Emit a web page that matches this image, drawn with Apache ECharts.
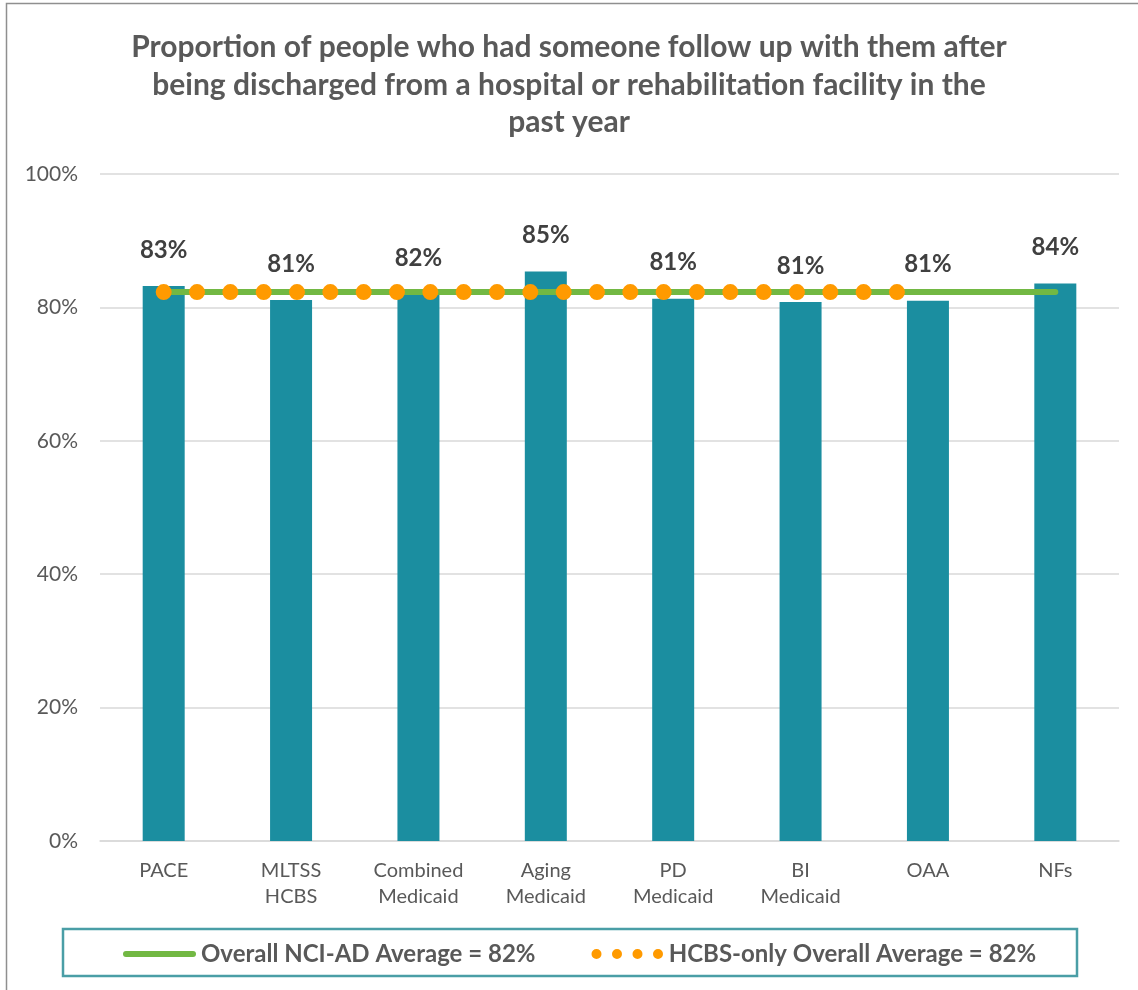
<!DOCTYPE html>
<html>
<head>
<meta charset="utf-8">
<script src="https://cdn.jsdelivr.net/npm/echarts@6/dist/echarts.min.js"></script>
<style>
  html, body { margin: 0; padding: 0; background: #fff; }
  #chart { width: 1138px; height: 990px; }
</style>
</head>
<body>
<div id="chart"></div>
<script>
const titleText = 'Proportion of people who had someone follow up with them after\nbeing discharged from a hospital or rehabilitation facility in the\npast year';
const categories = ['PACE', 'MLTSS\nHCBS', 'Combined\nMedicaid', 'Aging\nMedicaid', 'PD\nMedicaid', 'BI\nMedicaid', 'OAA', 'NFs'];
const barValues = [83.2, 81.1, 81.9, 85.4, 81.3, 80.8, 81.0, 83.6];
const overallAvgName = 'Overall NCI-AD Average = 82%';
const overallAvgLine = [82.3, 82.3, 82.3, 82.3, 82.3, 82.3, 82.3, 82.3];
const hcbsAvgName = 'HCBS-only Overall Average = 82%';
const hcbsAvgLine = [82.3, 82.3, 82.3, 82.3, 82.3, 82.3, 82.3, null];
const yTicks = [0, 20, 40, 60, 80, 100];

const FONT = 'Lato, "Open Sans", sans-serif';
const chart = echarts.init(document.getElementById('chart'), null, { renderer: 'canvas' });

const greenIcon = 'path://M3 0H70A3 3 0 0 1 70 6H3A3 3 0 0 1 3 0Z';
const dotsIcon = 'path://M0 5A5 5 0 1 0 10 5A5 5 0 1 0 0 5Z' +
  'M20.5 5A5 5 0 1 0 30.5 5A5 5 0 1 0 20.5 5Z' +
  'M41 5A5 5 0 1 0 51 5A5 5 0 1 0 41 5Z' +
  'M61.5 5A5 5 0 1 0 71.5 5A5 5 0 1 0 61.5 5Z';

chart.setOption({
  animation: false,
  backgroundColor: '#ffffff',
  title: {
    text: titleText,
    left: 'center',
    top: 24,
    textStyle: { fontFamily: FONT, fontSize: 30, fontWeight: 'bold', color: '#595959', lineHeight: 37.5 }
  },
  graphic: [
    { type: 'rect', z: 0, silent: true, shape: { x: 6.5, y: 3.5, width: 2000, height: 2000 },
      style: { fill: null, stroke: '#8f8f8f', lineWidth: 1.5 } },
    { type: 'rect', z: 0, silent: true, shape: { x: 63, y: 929, width: 1014, height: 47 },
      style: { fill: null, stroke: '#4a9ea6', lineWidth: 2.5 } }
  ],
  legend: {
    left: 123,
    top: 942,
    padding: 0,
    itemWidth: 73,
    itemHeight: 10,
    itemGap: 56,
    symbolKeepAspect: true,
    itemStyle: { borderWidth: 0 },
    textStyle: { fontFamily: FONT, fontSize: 24, fontWeight: 'bold', color: '#595959', lineHeight: 20, padding: [0, 0, 0, 0] },
    data: [
      { name: overallAvgName, icon: greenIcon },
      { name: hcbsAvgName, icon: dotsIcon }
    ]
  },
  grid: { left: 100, right: 19, top: 174, bottom: 149, containLabel: false },
  xAxis: {
    type: 'category',
    data: categories,
    axisTick: { show: false },
    axisLine: { show: true, lineStyle: { color: '#d9d9d9', width: 1.5 } },
    axisLabel: { interval: 0, fontFamily: FONT, fontSize: 20, color: '#595959', lineHeight: 26, margin: 17 }
  },
  yAxis: {
    type: 'value',
    min: yTicks[0],
    max: yTicks[yTicks.length - 1],
    interval: yTicks[1] - yTicks[0],
    axisLine: { show: false },
    axisTick: { show: false },
    splitLine: { lineStyle: { color: '#d9d9d9', width: 1.5 } },
    axisLabel: { formatter: '{value}%', fontFamily: FONT, fontSize: 21, color: '#595959', margin: 22 }
  },
  series: [
    {
      name: 'Values',
      type: 'bar',
      data: barValues,
      barWidth: 42,
      itemStyle: { color: '#1b8ea0' },
      z: 2,
      label: {
        show: true,
        position: 'top',
        distance: 24,
        formatter: p => Math.round(p.value) + '%',
        fontFamily: FONT, fontSize: 24, fontWeight: 'bold', color: '#404040'
      }
    },
    {
      name: overallAvgName,
      type: 'line',
      data: overallAvgLine,
      symbol: 'none',
      z: 3,
      itemStyle: { color: '#72b843' },
      lineStyle: { color: '#72b843', width: 6, cap: 'round' }
    },
    {
      name: hcbsAvgName,
      type: 'line',
      data: hcbsAvgLine,
      symbol: 'none',
      z: 4,
      itemStyle: { color: '#ff9a00' },
      lineStyle: { color: '#ff9a00', width: 16, type: [0.01, 33.32], cap: 'round' }
    }
  ]
});
</script>
</body>
</html>
